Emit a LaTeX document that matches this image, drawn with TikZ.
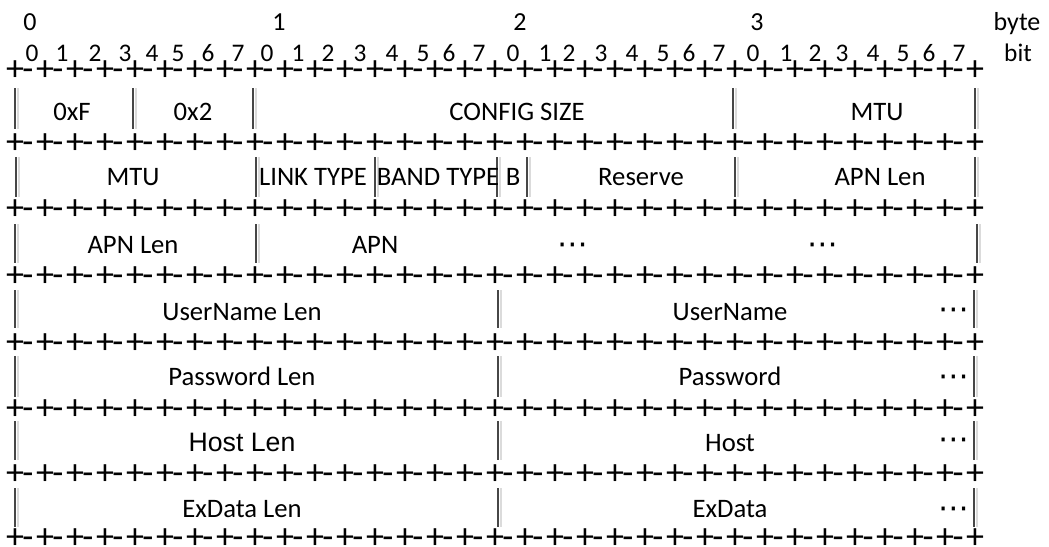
\documentclass[tikz,border=0pt]{standalone}
\usepackage{fontspec}
\setmainfont{Carlito}
\newfontfamily\arialfont{Liberation Sans}
\newfontfamily\dvfont{DejaVu Sans}
\tikzset{
  lbl/.style={font=\fontsize{20}{24}\selectfont, inner sep=0pt, anchor=base},
  hostlbl/.style={font=\arialfont\fontsize{20}{24}\selectfont, inner sep=0pt, anchor=base},
  bitnum/.style={font=\fontsize{19}{22}\selectfont, inner sep=0pt, anchor=base},
  bytenum/.style={font=\fontsize{19.5}{22}\selectfont, inner sep=0pt, anchor=base},
  sepglyph/.style={font=\fontsize{27}{30}\selectfont, inner sep=0pt, anchor=base},
  moredots/.style={font=\dvfont\fontsize{23}{26}\selectfont, inner sep=0pt, anchor=base},
  bardark/.style={line width=1.9pt, draw=black!72},
  barshade/.style={line width=1.5pt, draw=black!14},
}
\newcommand\fieldbar[3]{%
  \draw[barshade] ({#1+3},#2) -- ({#1+3},#3);
  \draw[bardark] (#1,#2) -- (#1,#3);}
\begin{document}
\begin{tikzpicture}[x=0.75pt,y=-0.75pt]
\useasboundingbox[fill=white] (0,0) rectangle (1049,546);

% byte numbers
\node[bytenum] (byte0) at (30,31) {0};
\node[bytenum] (byte1) at (279,31) {1};
\node[bytenum] (byte2) at (520,31) {2};
\node[bytenum] (byte3) at (757,31) {3};
\node[bytenum] (bytelbl) at (1017,31) {byte};
\node[bitnum] (bitlbl) at (1018,61) {bit};

% bit numbers
\foreach \x [count=\k from 0] in {32,62,95,125,152,178,208,238,
    267,298,328,360,392,423,449,479,
    513,545,569,601,632,663,689,719,
    753,786,815,842,873,903,929,959}{
  \pgfmathtruncatemacro\bb{mod(\k,8)}
  \node[bitnum] (bit\k) at (\x,61) {\bb};
}

% separator rows  +-+-+  (baseline = plus centre + 11)
\foreach \r/\y in {0/80,1/153,2/219,3/286,4/353,5/419,6/484,7/548}{
  \foreach \i in {0,...,32}{
    \node[sepglyph] (p\r-\i) at ({15+30*\i},\y) {+};
  }
  \foreach \i in {0,...,31}{
    \node[sepglyph] (d\r-\i) at ({28+30*\i},\y) {-};
  }
}

% field bars
\foreach \x in {15,133,253,733,975}{\fieldbar{\x}{88}{129}}
\foreach \x in {16,256,375,497,527,735,975}{\fieldbar{\x}{157}{197}}
\foreach \x in {15,256,977}{\fieldbar{\x}{224}{263}}
\foreach \x in {15,498,974}{\fieldbar{\x}{290}{328}}
\foreach \x in {15,498,974}{\fieldbar{\x}{356}{397}}
\foreach \x in {15,498,974}{\fieldbar{\x}{421}{460}}
\foreach \x in {15,498,974}{\fieldbar{\x}{488}{527}}

% row 1
\node[lbl] (f0xF) at (72,120) {0xF};
\node[lbl] (f0x2) at (193,120) {0x2};
\node[lbl] (fcfg) at (517,120) {CONFIG SIZE};
\node[lbl] (fmtua) at (877,120) {MTU};
% row 2
\node[lbl] (fmtub) at (133,185) {MTU};
\node[lbl] (flink) at (313,185) {LINK TYPE};
\node[lbl] (fband) at (438,185) {BAND TYPE};
\node[lbl] (fb) at (513,185) {B};
\node[lbl] (fres) at (641,185) {Reserve};
\node[lbl] (fapnlena) at (880,185) {APN Len};
% row 3
\node[lbl] (fapnlenb) at (133,253) {APN Len};
\node[lbl] (fapn) at (375,253) {APN};
\node[moredots] (dotsa) at (573,254) {⋯};
\node[moredots] (dotsb) at (823,254) {⋯};
% row 4
\node[lbl] (funlen) at (242,320) {UserName Len};
\node[lbl] (fun) at (730,320) {UserName};
\node[moredots] (dotsc) at (954,319) {⋯};
% row 5
\node[lbl] (fpwlen) at (242,385) {Password Len};
\node[lbl] (fpw) at (730,385) {Password};
\node[moredots] (dotsd) at (954,386) {⋯};
% row 6
\node[hostlbl] (fhostlen) at (242,451) {Host Len};
\node[lbl] (fhost) at (730,451) {Host};
\node[moredots] (dotse) at (954,449) {⋯};
% row 7
\node[lbl] (fexlen) at (242,517) {ExData Len};
\node[lbl] (fex) at (730,517) {ExData};
\node[moredots] (dotsf) at (954,518) {⋯};
\end{tikzpicture}
\end{document}
